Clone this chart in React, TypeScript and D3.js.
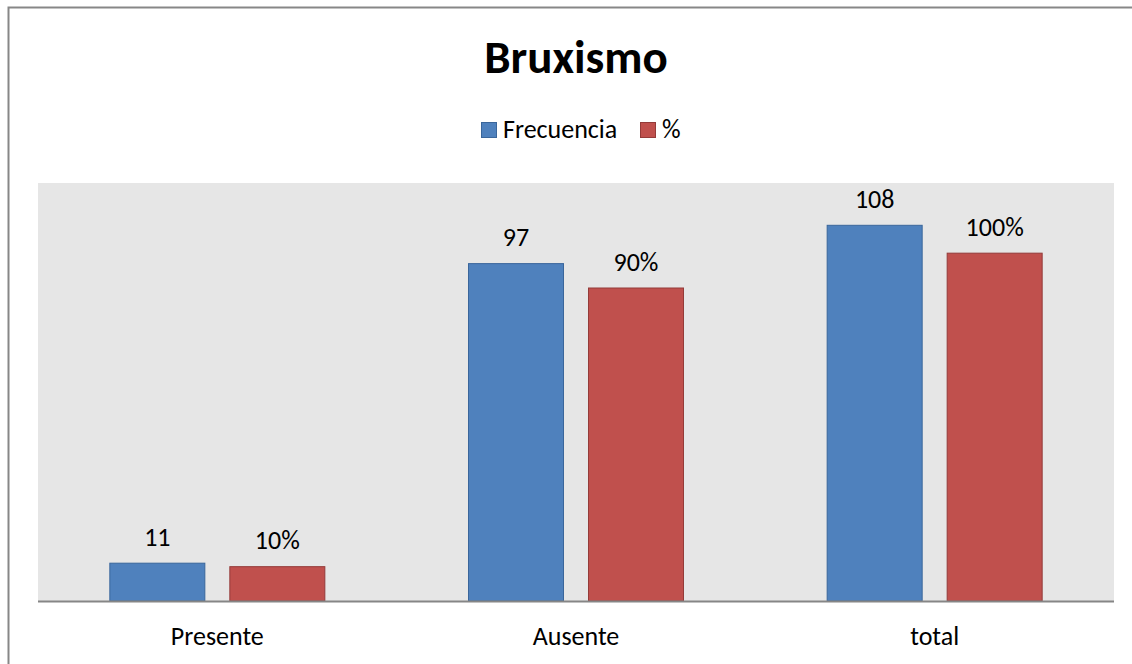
import { useRef, useEffect } from 'react';
import * as d3 from 'd3';

const CATEGORIES = ['Presente', 'Ausente', 'total'];
const SERIES = ['Frecuencia', '%'];
const FRECUENCIA = [11, 97, 108];
const PORCENTAJE = [0.1, 0.9, 1.0];

const COLORS: Record<string, string> = { Frecuencia: '#4F81BD', '%': '#C0504D' };
const STROKES: Record<string, string> = { Frecuencia: '#3A669B', '%': '#943B39' };

const FONT = "Carlito, Calibri, Lato, sans-serif";

export default function App() {
  const svgRef = useRef<SVGSVGElement>(null);
  const width = 1132;
  const height = 664;

  useEffect(() => {
    document.body.style.margin = '0';
    document.body.style.overflow = 'hidden';
    if (!svgRef.current) return;
    const svg = d3.select(svgRef.current);
    svg.selectAll('*').remove();

    const plot = { left: 38, right: 1114, top: 183, bottom: 601 };

    // outer chart frame: only its top and left edges are inside the picture
    svg
      .append('path')
      .attr('d', `M8.5,${height}V7.5H${width}`)
      .attr('fill', 'none')
      .attr('stroke', '#878787')
      .attr('stroke-width', 2);

    // plot area
    svg
      .append('rect')
      .attr('x', plot.left)
      .attr('y', plot.top)
      .attr('width', plot.right - plot.left)
      .attr('height', plot.bottom - plot.top)
      .attr('fill', '#E6E6E6');

    const x0 = d3.scaleBand<string>().domain(CATEGORIES).range([plot.left, plot.right]);
    const x1 = d3
      .scaleBand<string>()
      .domain(SERIES)
      .range([-108, 108])
      .paddingInner(0.2)
      .paddingOuter(0);

    const yFreq = d3.scaleLinear().domain([0, 120]).range([plot.bottom, plot.top]);
    const yPct = d3.scaleLinear().domain([0, 1.2]).range([plot.bottom, plot.top]);

    const rows = CATEGORIES.map((c, i) => [
      { cat: c, key: 'Frecuencia', y: yFreq(FRECUENCIA[i]), label: d3.format('d')(FRECUENCIA[i]) },
      { cat: c, key: '%', y: yPct(PORCENTAJE[i]), label: d3.format('.0%')(PORCENTAJE[i]) },
    ]).flat();

    const g = svg.append('g');
    rows.forEach((d) => {
      const cx = (x0(d.cat) as number) + x0.bandwidth() / 2;
      const bx = cx + (x1(d.key) as number);
      g.append('rect')
        .attr('x', bx + 0.5)
        .attr('y', d.y + 0.5)
        .attr('width', x1.bandwidth() - 1)
        .attr('height', plot.bottom - d.y - 0.5)
        .attr('fill', COLORS[d.key])
        .attr('stroke', STROKES[d.key])
        .attr('stroke-width', 1);
      g.append('text')
        .attr('x', bx + x1.bandwidth() / 2)
        .attr('y', d.y - 17)
        .attr('text-anchor', 'middle')
        .attr('font-family', FONT)
        .attr('font-size', '26px')
        .attr('fill', '#000')
        .text(d.label);
    });

    // category axis
    svg
      .append('line')
      .attr('x1', plot.left)
      .attr('x2', plot.right)
      .attr('y1', plot.bottom + 0.5)
      .attr('y2', plot.bottom + 0.5)
      .attr('stroke', '#868686')
      .attr('stroke-width', 2);

    CATEGORIES.forEach((c) => {
      svg
        .append('text')
        .attr('x', (x0(c) as number) + x0.bandwidth() / 2)
        .attr('y', 645)
        .attr('text-anchor', 'middle')
        .attr('font-family', FONT)
        .attr('font-size', '26px')
        .attr('fill', '#000')
        .text(c);
    });

    // title
    svg
      .append('text')
      .attr('x', 576)
      .attr('y', 73)
      .attr('text-anchor', 'middle')
      .attr('font-family', FONT)
      .attr('font-size', '47px')
      .attr('font-weight', 'bold')
      .attr('fill', '#000')
      .text('Bruxismo');

    // legend
    const legendX = [481, 640];
    SERIES.forEach((s, i) => {
      const lg = svg.append('g').attr('transform', `translate(${legendX[i]},122)`);
      lg.append('rect')
        .attr('x', 0.5)
        .attr('y', 0.5)
        .attr('width', 15)
        .attr('height', 15)
        .attr('fill', COLORS[s])
        .attr('stroke', STROKES[s]);
      lg.append('text')
        .attr('x', 22)
        .attr('y', 16)
        .attr('font-family', FONT)
        .attr('font-size', '26px')
        .attr('fill', '#000')
        .text(s);
    });
  }, []);

  return <svg ref={svgRef} width={width} height={height} style={{ display: 'block' }} />;
}
